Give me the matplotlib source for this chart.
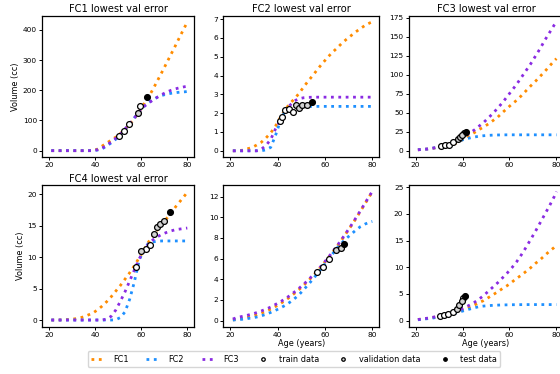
import matplotlib
matplotlib.use("Agg")
import matplotlib.pyplot as plt

ages = [21, 23, 25, 27, 29, 31, 33, 35, 37, 39, 41, 43, 45, 47, 49, 51, 53, 55,
        57, 59, 61, 63, 65, 67, 69, 71, 73, 75, 77, 79, 80]

# ---- Panel 1: FC1 lowest val error ----
p1_fc1 = [0, 0, 0, 0, 0, 0, 0, 0, 0, 1, 5, 15, 25, 35, 45, 57, 70, 87, 105, 128,
          152, 175, 202, 231, 260, 290, 320, 350, 381, 411, 425]
p1_fc2 = [0, 0, 0, 0, 0, 0, 0, 0, 0, 0, 2, 6, 15, 26, 38, 53, 70, 88, 108, 128,
          145, 158, 168, 177, 183, 187, 190, 192, 194, 195, 196]
p1_fc3 = [0, 0, 0, 0, 0, 0, 0, 0, 0, 0, 3, 8, 18, 29, 41, 55, 72, 90, 108, 128,
          145, 157, 167, 177, 186, 194, 200, 205, 209, 212, 213]
p1_train_x = [50.3, 52.5, 54.8, 59.6]
p1_train_y = [49, 66, 88, 147]
p1_val_x = [58.4]
p1_val_y = [124]
p1_test_x = [62.5]
p1_test_y = [178]

# ---- Panel 2: FC2 lowest val error ----
p2_fc1 = [0, 0, 0.03, 0.1, 0.17, 0.3, 0.45, 0.68, 0.95, 1.3, 1.75, 2.15, 2.5, 2.75,
          3.05, 3.4, 3.73, 4.03, 4.36, 4.66, 4.95, 5.22, 5.45, 5.7, 5.92, 6.12,
          6.32, 6.5, 6.67, 6.8, 6.85]
p2_fc2 = [0, 0, 0, 0, 0, 0, 0, 0.05, 0.18, 0.8, 1.55, 2.1, 2.3, 2.35, 2.36, 2.36,
          2.36, 2.36, 2.36, 2.36, 2.36, 2.36, 2.36, 2.36, 2.36, 2.36, 2.36, 2.36,
          2.36, 2.36, 2.36]
p2_fc3 = [0, 0, 0, 0, 0, 0, 0.08, 0.28, 0.6, 1.15, 1.6, 2.05, 2.4, 2.65, 2.77, 2.82,
          2.84, 2.85, 2.85, 2.85, 2.85, 2.85, 2.85, 2.85, 2.85, 2.85, 2.85, 2.85,
          2.85, 2.85, 2.85]
p2_train_x = [41.0, 41.8, 43.2, 44.9, 46.6]
p2_train_y = [1.58, 1.77, 2.16, 2.22, 2.06]
p2_val_x = [47.6, 48.8, 50.3, 52.4]
p2_val_y = [2.45, 2.29, 2.45, 2.41]
p2_test_x = [54.4]
p2_test_y = [2.57]

# ---- Panel 3: FC3 lowest val error ----
p3_fc1 = [1, 1.5, 2, 2.8, 3.7, 4.7, 6, 7.5, 9.5, 12, 17, 20, 23.5, 27.5, 31, 35,
          39.5, 44, 50, 55.5, 61, 66, 72, 78.5, 85, 91, 97.5, 104, 111, 118, 121]
p3_fc2 = [1, 1.5, 2, 3, 4, 5.5, 7, 9, 11, 13, 15, 16.5, 17.8, 18.8, 19.5, 20, 20.3,
          20.5, 20.6, 20.7, 20.7, 20.7, 20.7, 20.7, 20.7, 20.7, 20.7, 20.7, 20.7,
          20.7, 20.7]
p3_fc3 = [1, 1.5, 2, 3, 4, 5, 7, 9, 12, 15, 19, 23, 27, 32, 37, 43, 49, 56, 63, 71,
          79, 87, 96, 105, 114, 124, 134, 145, 155, 165, 169]
p3_train_x = [30.9, 32.7, 34.3, 36.0, 40.8]
p3_train_y = [6, 7, 7.5, 11, 22.8]
p3_val_x = [38.0, 39.0, 39.9]
p3_val_y = [15, 17.5, 20.6]
p3_test_x = [41.3]
p3_test_y = [24]

# ---- Panel 4: FC4 lowest val error ----
p4_fc1 = [0, 0, 0.02, 0.05, 0.1, 0.18, 0.3, 0.5, 0.8, 1.1, 1.6, 2.2, 2.9, 3.7, 4.6,
          5.5, 6.5, 7.5, 8.6, 9.8, 11, 12.3, 13.3, 14.3, 15.2, 16.1, 17.0, 18.0,
          18.9, 19.8, 20.3]
p4_fc2 = [0, 0, 0, 0, 0, 0, 0, 0, 0, 0, 0, 0, 0, 0, 0.05, 0.4, 1.3, 3.3, 6, 9.3,
          11.2, 12.1, 12.4, 12.5, 12.55, 12.55, 12.55, 12.55, 12.55, 12.55, 12.55]
p4_fc3 = [0, 0, 0, 0, 0, 0, 0, 0, 0, 0, 0, 0, 0.15, 0.6, 1.6, 3.0, 4.5, 6.2, 7.9,
          9.6, 11.0, 12.0, 12.7, 13.2, 13.6, 13.9, 14.15, 14.35, 14.45, 14.55, 14.6]
p4_train_x = [57.8, 61.9, 63.9]
p4_train_y = [8.4, 11.3, 11.9]
p4_val_x = [59.9, 65.4, 66.7, 68.0, 70.0]
p4_val_y = [10.9, 13.7, 14.7, 15.3, 15.7]
p4_test_x = [72.3]
p4_test_y = [17.1]

# ---- Panel 5 ----
p5_fc1 = [0.05, 0.12, 0.2, 0.3, 0.42, 0.55, 0.7, 0.9, 1.1, 1.35, 1.62, 1.92, 2.25,
          2.62, 3.0, 3.42, 3.87, 4.35, 4.85, 5.4, 5.97, 6.55, 7.15, 7.8, 8.47,
          9.15, 9.85, 10.6, 11.35, 12.1, 12.5]
p5_fc2 = [0.05, 0.08, 0.12, 0.18, 0.25, 0.33, 0.45, 0.6, 0.78, 0.98, 1.2, 1.45,
          1.75, 2.1, 2.5, 3.0, 3.5, 4.05, 4.6, 5.2, 5.8, 6.4, 7.0, 7.5, 7.95, 8.35,
          8.75, 9.1, 9.35, 9.55, 9.6]
p5_fc3 = [0.15, 0.3, 0.4, 0.5, 0.62, 0.76, 0.92, 1.1, 1.3, 1.55, 1.8, 2.08, 2.4,
          2.75, 3.12, 3.52, 3.95, 4.42, 4.92, 5.45, 6.0, 6.6, 7.2, 7.85, 8.52, 9.2,
          9.92, 10.65, 11.4, 12.15, 12.5]
p5_train_x = [56.7, 59.0, 61.7]
p5_train_y = [4.68, 5.2, 6.0]
p5_val_x = [64.6, 66.7]
p5_val_y = [6.84, 7.0]
p5_test_x = [68.0]
p5_test_y = [7.4]

# ---- Panel 6 ----
p6_fc1 = [0.2, 0.3, 0.4, 0.55, 0.7, 0.85, 1.0, 1.2, 1.45, 1.75, 2.1, 2.5, 2.9,
          3.35, 3.75, 4.3, 4.85, 5.4, 6.0, 6.55, 7.2, 7.9, 8.5, 9.2, 9.9, 10.7,
          11.4, 12.2, 13.0, 13.7, 14.1]
p6_fc2 = [0.15, 0.25, 0.35, 0.45, 0.6, 0.75, 0.95, 1.15, 1.4, 1.65, 1.9, 2.15, 2.4,
          2.6, 2.72, 2.8, 2.86, 2.9, 2.93, 2.95, 2.97, 2.98, 2.99, 3.0, 3.0, 3.0,
          3.0, 3.0, 3.0, 3.0, 3.0]
p6_fc3 = [0.2, 0.3, 0.45, 0.6, 0.75, 0.95, 1.15, 1.4, 1.7, 2.05, 2.45, 2.9, 3.4,
          4.0, 4.7, 5.5, 6.3, 7.1, 8.0, 8.9, 9.9, 11.0, 12.3, 13.7, 15.2, 16.7,
          18.3, 19.9, 21.5, 23.2, 24.2]
p6_train_x = [30.4, 32.2, 33.8, 35.8, 40.4]
p6_train_y = [0.94, 1.06, 1.19, 1.6, 4.2]
p6_val_x = [37.6, 38.7, 39.7]
p6_val_y = [2.25, 2.94, 3.7]
p6_test_x = [41.2]
p6_test_y = [4.7]

titles = ["FC1 lowest val error", "FC2 lowest val error", "FC3 lowest val error",
          "FC4 lowest val error", "", ""]
series_labels = ["FC1", "FC2", "FC3"]
point_labels = ["train data", "validation data", "test data"]

panels = [
    (p1_fc1, p1_fc2, p1_fc3, p1_train_x, p1_train_y, p1_val_x, p1_val_y, p1_test_x, p1_test_y),
    (p2_fc1, p2_fc2, p2_fc3, p2_train_x, p2_train_y, p2_val_x, p2_val_y, p2_test_x, p2_test_y),
    (p3_fc1, p3_fc2, p3_fc3, p3_train_x, p3_train_y, p3_val_x, p3_val_y, p3_test_x, p3_test_y),
    (p4_fc1, p4_fc2, p4_fc3, p4_train_x, p4_train_y, p4_val_x, p4_val_y, p4_test_x, p4_test_y),
    (p5_fc1, p5_fc2, p5_fc3, p5_train_x, p5_train_y, p5_val_x, p5_val_y, p5_test_x, p5_test_y),
    (p6_fc1, p6_fc2, p6_fc3, p6_train_x, p6_train_y, p6_val_x, p6_val_y, p6_test_x, p6_test_y),
]

ylims = [(-21, 447), (-0.33, 7.18), (-8.5, 177.5), (-1.06, 21.43), (-0.6, 13.13), (-1.15, 25.43)]
yticks = [[0, 100, 200, 300, 400], list(range(0, 8)), [0, 25, 50, 75, 100, 125, 150, 175],
          [0, 5, 10, 15, 20], [0, 2, 4, 6, 8, 10, 12], [0, 5, 10, 15, 20, 25]]

colors = ["darkorange", "dodgerblue", "blueviolet"]

W, H = 560, 374
fig = plt.figure(figsize=(W / 100, H / 100), dpi=100)

cols_px = [(42.1, 194.2), (223.4, 379.4), (408.5, 563.5)]
rows_px = [(15.7, 157.0), (185.0, 326.7)]

TICK_FS = 5.3
LAB_FS = 5.9
TITLE_FS = 7.1

axes = []
for i, pdata in enumerate(panels):
    r, c = divmod(i, 3)
    x0, x1 = cols_px[c]
    t0, t1 = rows_px[r]
    ax = fig.add_axes([x0 / W, 1 - t1 / H, (x1 - x0) / W, (t1 - t0) / H])
    axes.append(ax)
    fc1, fc2, fc3, trx, tryy, vx, vy, tx, ty = pdata
    for vals, col, lab in zip((fc1, fc2, fc3), colors, series_labels):
        ax.plot(ages, vals, linestyle=":", color=col, lw=2.0, label=lab)
    ax.plot(trx, tryy, "o", ms=4.2, mfc="white", mec="black", mew=0.9, ls="none",
            label=point_labels[0], zorder=5)
    ax.plot(vx, vy, "o", ms=4.2, mfc="lightgray", mec="black", mew=0.9, ls="none",
            label=point_labels[1], zorder=5)
    ax.plot(tx, ty, "o", ms=4.2, mfc="black", mec="black", mew=0.9, ls="none",
            label=point_labels[2], zorder=6)
    ax.set_xlim(17, 83)
    ax.set_ylim(*ylims[i])
    ax.set_xticks([20, 40, 60, 80])
    ax.set_yticks(yticks[i])
    ax.tick_params(labelsize=TICK_FS, length=2.2, width=0.7, pad=1.5)
    for s in ax.spines.values():
        s.set_linewidth(0.9)
    if titles[i]:
        ax.set_title(titles[i], fontsize=TITLE_FS, pad=2.5)
    if c == 0:
        ax.set_ylabel("Volume (cc)", fontsize=LAB_FS, labelpad=2)
    if r == 1 and c > 0:
        ax.set_xlabel("Age (years)", fontsize=LAB_FS, labelpad=1)

handles, labels = axes[0].get_legend_handles_labels()
fig.legend(handles, labels, loc="center", bbox_to_anchor=(294 / W, 1 - 359 / H),
           ncol=6, fontsize=LAB_FS, frameon=True, fancybox=True, markerscale=0.6,
           handlelength=1.6, columnspacing=2.15, borderpad=0.4, handletextpad=1.1,
           edgecolor="0.8")

fig.savefig("out.png", dpi=100)
